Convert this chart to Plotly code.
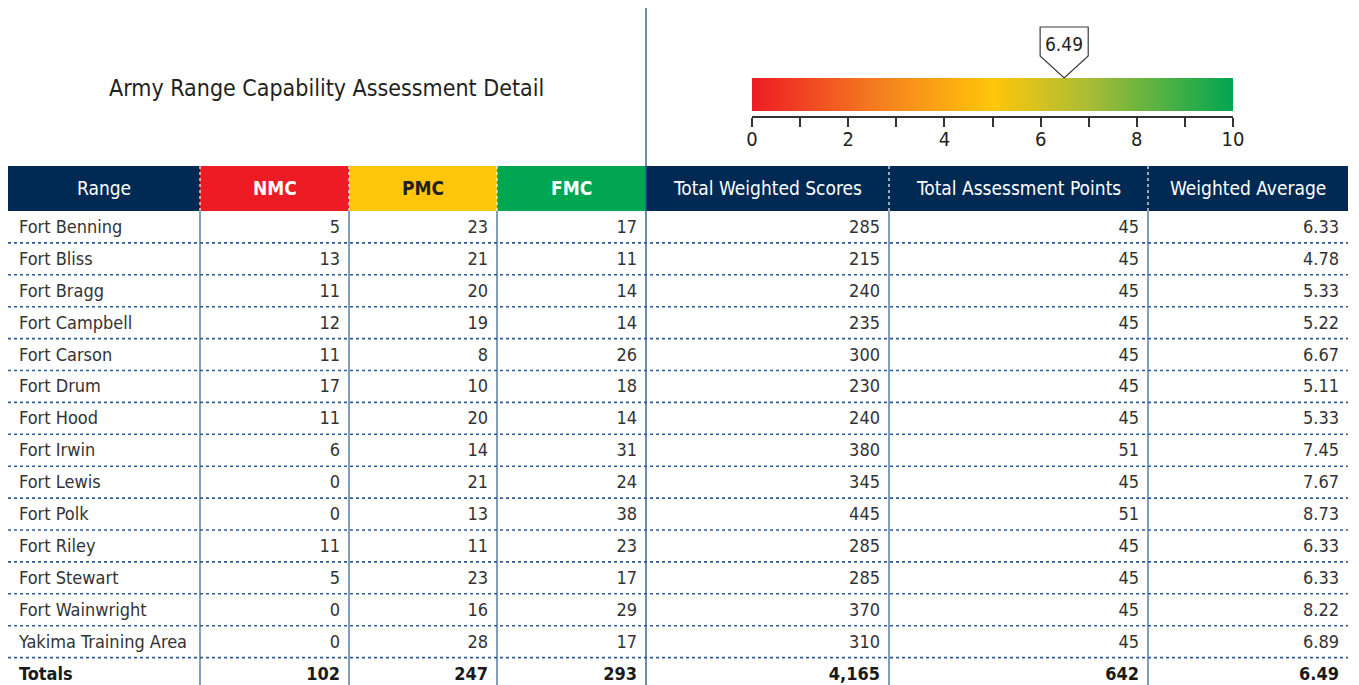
import plotly.graph_objects as go

# ---------------- data ----------------
ranges = ["Fort Benning", "Fort Bliss", "Fort Bragg", "Fort Campbell", "Fort Carson",
          "Fort Drum", "Fort Hood", "Fort Irwin", "Fort Lewis", "Fort Polk",
          "Fort Riley", "Fort Stewart", "Fort Wainwright", "Yakima Training Area"]
nmc = [5, 13, 11, 12, 11, 17, 11, 6, 0, 0, 11, 5, 0, 0]
pmc = [23, 21, 20, 19, 8, 10, 20, 14, 21, 13, 11, 23, 16, 28]
fmc = [17, 11, 14, 14, 26, 18, 14, 31, 24, 38, 23, 17, 29, 17]
weighted_scores = [285, 215, 240, 235, 300, 230, 240, 380, 345, 445, 285, 285, 370, 310]
assessment_points = [45, 45, 45, 45, 45, 45, 45, 51, 45, 51, 45, 45, 45, 45]
weighted_avg = ["6.33", "4.78", "5.33", "5.22", "6.67", "5.11", "5.33", "7.45", "7.67",
                "8.73", "6.33", "6.33", "8.22", "6.89"]
totals = ["Totals", "102", "247", "293", "4,165", "642", "6.49"]
headers = ["Range", "NMC", "PMC", "FMC", "Total Weighted Scores",
           "Total Assessment Points", "Weighted Average"]
overall_score = 6.49
gauge_ticks = [0, 1, 2, 3, 4, 5, 6, 7, 8, 9, 10]
gauge_ticklabels = ["0", "", "2", "", "4", "", "6", "", "8", "", "10"]
title_text = "Army Range Capability Assessment Detail"

# ---------------- styling / layout ----------------
W, H = 1359, 685
FONT = "Liberation Sans Narrow, Arial Narrow, DejaVu Sans Condensed, sans-serif"
NAVY = "#002A54"
RED = "#ED1C24"
YELLOW = "#FFC60B"
GREEN = "#00A651"
LINE = "#2B5C93"
TXT = "#333333"

col_edges = [8, 200, 349, 497, 646, 889, 1148, 1348]
header_fill = [NAVY, RED, YELLOW, GREEN, NAVY, NAVY, NAVY]
header_color = ["white", "white", "#231F20", "white", "white", "white", "white"]
header_bold = [False, True, True, True, False, False, False]
hdr_y0, hdr_y1 = 166, 211
row_h = 31.9

columns = [ranges, [str(v) for v in nmc], [str(v) for v in pmc], [str(v) for v in fmc],
           [f"{v:,}" for v in weighted_scores], [str(v) for v in assessment_points], weighted_avg]
n_rows = len(ranges)
row_y = [hdr_y1 + (i + 0.5) * row_h + 1.5 for i in range(n_rows)]
tot_y = hdr_y1 + (n_rows + 0.5) * row_h + 1.5

fig = go.Figure()
shapes = []
annotations = []

# header fills
for j in range(7):
    shapes.append(dict(type="rect", xref="x", yref="y", x0=col_edges[j], x1=col_edges[j + 1],
                       y0=hdr_y0, y1=hdr_y1, fillcolor=header_fill[j], line=dict(width=0),
                       layer="below"))
    annotations.append(dict(x=(col_edges[j] + col_edges[j + 1]) / 2, y=(hdr_y0 + hdr_y1) / 2 - 1,
                            xref="x", yref="y", showarrow=False,
                            text=("<b>%s</b>" % headers[j]) if header_bold[j] else headers[j],
                            font=dict(family=FONT, size=19, color=header_color[j])))
# header dotted white separators
for xe in [200, 349, 497, 889, 1148]:
    shapes.append(dict(type="line", xref="x", yref="y", x0=xe, x1=xe, y0=hdr_y0, y1=hdr_y1,
                       line=dict(color="white", width=1.2, dash="dot")))

# body vertical lines
for xe in [200, 349, 497, 889, 1148]:
    shapes.append(dict(type="line", xref="x", yref="y", x0=xe, x1=xe, y0=hdr_y1, y1=H,
                       line=dict(color=LINE, width=1.2)))
# main divider
shapes.append(dict(type="line", xref="x", yref="y", x0=646, x1=646, y0=8, y1=H,
                   line=dict(color=LINE, width=1.4)))

# dotted row separators
for i in range(1, n_rows + 1):
    yy = hdr_y1 + i * row_h
    shapes.append(dict(type="line", xref="x", yref="y", x0=8, x1=1348, y0=yy, y1=yy,
                       line=dict(color=LINE, width=1.6, dash="dot")))

# body text
for j in range(7):
    if j == 0:
        xs, pos = col_edges[0] + 11, "middle right"
    else:
        xs, pos = col_edges[j + 1] - 9, "middle left"
    fig.add_trace(go.Scatter(x=[xs] * n_rows, y=row_y, mode="text", text=columns[j],
                             textposition=pos, cliponaxis=False, hoverinfo="skip",
                             textfont=dict(family=FONT, size=18, color=TXT),
                             showlegend=False, xaxis="x", yaxis="y"))
    fig.add_trace(go.Scatter(x=[xs], y=[tot_y], mode="text", text=["<b>%s</b>" % totals[j]],
                             textposition=pos, cliponaxis=False, hoverinfo="skip",
                             textfont=dict(family=FONT, size=18, color="#1A1A1A"),
                             showlegend=False, xaxis="x", yaxis="y"))

# title
annotations.append(dict(x=107, y=88, xref="x", yref="y", xanchor="left", showarrow=False,
                        text=title_text, font=dict(family=FONT, size=23, color="#231F20")))

# gauge gradient
fig.add_trace(go.Heatmap(x=[0, 10], y=[0, 1], z=[[0, 10], [0, 10]], zsmooth="best",
                         zmin=0, zmax=10, showscale=False, hoverinfo="skip",
                         colorscale=[[0, RED], [0.25, "#F47A20"], [0.5, "#FFC60B"],
                                     [0.7, "#A9BC36"], [1, GREEN]],
                         xaxis="x2", yaxis="y2"))

# marker
v = overall_score
shapes.append(dict(type="path", xref="x2", yref="y",
                   path=f"M {v-0.5},27 L {v+0.5},27 L {v+0.5},56 L {v},78 L {v-0.5},56 Z",
                   fillcolor="white", line=dict(color="#3A3A3A", width=1.2)))
annotations.append(dict(x=v, y=44, xref="x2", yref="y", showarrow=False,
                        text=f"{v:.2f}", font=dict(family=FONT, size=19, color="#231F20")))

fig.update_layout(
    width=W, height=H, autosize=False, margin=dict(l=0, r=0, t=0, b=0, pad=0, autoexpand=False),
    paper_bgcolor="white", plot_bgcolor="rgba(0,0,0,0)",
    shapes=shapes, annotations=annotations,
    xaxis=dict(range=[0, W], visible=False, domain=[0, 1], fixedrange=True, automargin=False),
    yaxis=dict(range=[H, 0], visible=False, domain=[0, 1], fixedrange=True, automargin=False),
    xaxis2=dict(domain=[752 / W, 1233 / W], range=[0, 10], anchor="free",
                position=1 - 117 / H, showline=True, linecolor="#333", linewidth=1.5,
                ticks="outside", ticklen=9, tickcolor="#333", tickwidth=1.5,
                ticklabelstandoff=-5,
                tickvals=gauge_ticks, ticktext=gauge_ticklabels, showgrid=False,
                zeroline=False, automargin=False, fixedrange=True,
                tickfont=dict(family=FONT, size=20, color="#231F20")),
    yaxis2=dict(domain=[1 - 111 / H, 1 - 78 / H], range=[0, 1], anchor="x2",
                visible=False, automargin=False, fixedrange=True),
    showlegend=False,
)

fig.write_html("out.html",
               config={"displayModeBar": False, "responsive": False},
               post_script="document.body.style.margin='0';"
                           "document.documentElement.style.overflow='hidden';"
                           "document.body.style.overflow='hidden';")
